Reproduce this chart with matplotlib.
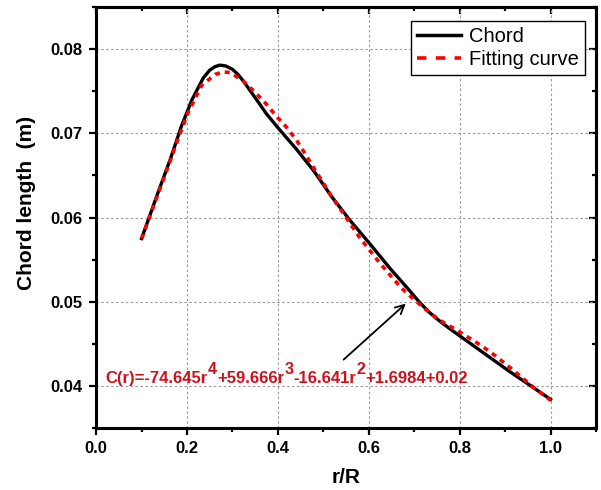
import matplotlib

matplotlib.use("Agg")
import matplotlib.pyplot as plt
from matplotlib.lines import Line2D

plt.rcParams["font.family"] = ["Liberation Sans", "DejaVu Sans"]

# Chord distribution along the blade
chord_r = [0.100, 0.133, 0.163, 0.188, 0.211, 0.236, 0.250, 0.261, 0.272, 0.285,
           0.300, 0.312, 0.324, 0.353, 0.375, 0.401, 0.441, 0.478, 0.518, 0.558,
           0.602, 0.646, 0.690, 0.712, 0.734, 0.756, 0.778, 0.822, 0.866, 0.910,
           0.954, 1.000]
chord_c = [0.0575, 0.0625, 0.0669, 0.0709, 0.0740, 0.0766, 0.0775, 0.0779, 0.0781, 0.0780,
           0.0776, 0.0770, 0.0762, 0.0740, 0.0723, 0.0706, 0.0681, 0.0656, 0.0625, 0.0597,
           0.0569, 0.0540, 0.0513, 0.0499, 0.0487, 0.0477, 0.0468, 0.0451, 0.0434, 0.0417,
           0.0401, 0.0384]

# Polynomial fitting curve
fit_r = [0.100, 0.126, 0.148, 0.176, 0.201, 0.232, 0.262, 0.280, 0.296, 0.324,
         0.351, 0.374, 0.397, 0.421, 0.443, 0.463, 0.481, 0.501, 0.519, 0.540,
         0.580, 0.624, 0.672, 0.701, 0.727, 0.756, 0.788, 0.818, 0.850, 0.878,
         0.908, 0.937, 0.965, 1.000]
fit_c = [0.0575, 0.0613, 0.0645, 0.0687, 0.0723, 0.0757, 0.0770, 0.0773, 0.0772, 0.0762,
         0.0748, 0.0735, 0.0720, 0.0706, 0.0690, 0.0673, 0.0657, 0.0640, 0.0624, 0.0608,
         0.0576, 0.0546, 0.0516, 0.0502, 0.0490, 0.0478, 0.0468, 0.0458, 0.0447, 0.0436,
         0.0423, 0.0410, 0.0397, 0.0383]

x_major = [0.0, 0.2, 0.4, 0.6, 0.8, 1.0]
x_minor = [0.1, 0.3, 0.5, 0.7, 0.9, 1.1]
y_major = [0.04, 0.05, 0.06, 0.07, 0.08]
y_minor = [0.035, 0.045, 0.055, 0.065, 0.075, 0.085]

# equation pieces: (text, is_superscript)
eq_parts = [("C(r)=-74.645r", False), ("4", True), ("+59.666r", False), ("3", True),
            ("-16.641r", False), ("2", True), ("+1.6984+0.02", False)]
EQ_COLOR = "#d0101c"

fig = plt.figure(figsize=(6.01, 4.90), dpi=100)
ax = fig.add_axes([0.16, 0.1265, 0.8317, 0.8592])

ax.plot(chord_r, chord_c, color="black", linewidth=2.4, zorder=3)
ax.plot(fit_r, fit_c, color="red", linewidth=2.6, dashes=(1.4, 1.4), zorder=4)

ax.set_xlim(0.0, 1.1)
ax.set_ylim(0.035, 0.085)
ax.set_xticks(x_major)
ax.set_xticks(x_minor, minor=True)
ax.set_yticks(y_major)
ax.set_yticks(y_minor, minor=True)
ax.set_xticklabels([f"{v:.1f}" for v in x_major], fontweight="bold")
ax.set_yticklabels([f"{v:.2f}" for v in y_major], fontweight="bold")
ax.tick_params(axis="both", which="both", direction="out", width=1.6, labelsize=12)
ax.tick_params(axis="both", which="major", length=5)
ax.tick_params(axis="both", which="minor", length=3)
ax.tick_params(axis="y", pad=5)
ax.tick_params(axis="x", pad=4)

ax.grid(True, which="major", color="#9a9a9a", linestyle=(0, (2.2, 2.2)), linewidth=0.8)
for s in ax.spines.values():
    s.set_linewidth(2.2)

top = ax.secondary_xaxis("top")
top.set_xticks(x_major)
top.set_xticks(x_minor, minor=True)
top.tick_params(which="both", direction="in", width=1.6, labeltop=False)
top.tick_params(which="major", length=5)
top.tick_params(which="minor", length=3)
top.spines["top"].set_linewidth(2.2)

right = ax.secondary_yaxis("right")
right.set_yticks(y_major)
right.set_yticks(y_minor, minor=True)
right.tick_params(which="both", direction="in", width=1.6, labelright=False)
right.tick_params(which="major", length=5)
right.tick_params(which="minor", length=3)
right.spines["right"].set_linewidth(2.2)

ax.set_xlabel("r/R", fontsize=15, fontweight="bold", labelpad=9)
ax.set_ylabel("Chord length  (m)", fontsize=15, fontweight="bold")
ax.yaxis.set_label_coords(-0.12, 0.535)

# equation, with full-size raised exponents like the original
eq_y = 0.0403
prev = ax.text(0.02, eq_y, eq_parts[0][0], color=EQ_COLOR, fontsize=12,
               fontweight="bold", ha="left", va="baseline", zorder=6)
for txt, sup in eq_parts[1:]:
    prev = ax.annotate(txt, xy=(1, eq_y), xycoords=(prev, "data"),
                       xytext=(0.3 if sup else 0, 7 if sup else 0),
                       textcoords="offset points", color=EQ_COLOR,
                       fontsize=11.5 if sup else 12, fontweight="bold",
                       ha="left", va="baseline", zorder=6)

ax.annotate("", xy=(0.686, 0.0500), xytext=(0.540, 0.0429),
            arrowprops=dict(arrowstyle="->", color="black", lw=1.3,
                            mutation_scale=16), zorder=6)

handles = [
    Line2D([], [], color="black", linewidth=2.5),
    Line2D([], [], color="red", linewidth=2.6, dashes=(2.6, 2.6)),
]
leg = ax.legend(handles, ["Chord", "Fitting curve"], loc="upper right",
                bbox_to_anchor=(0.978, 0.967), fontsize=14.5, frameon=True,
                fancybox=False, framealpha=1, edgecolor="black",
                handlelength=2.2, handletextpad=0.4, labelspacing=0.22,
                borderpad=0.3, borderaxespad=0.0)
leg.get_frame().set_linewidth(1.0)

fig.savefig("out.png", dpi=100)
